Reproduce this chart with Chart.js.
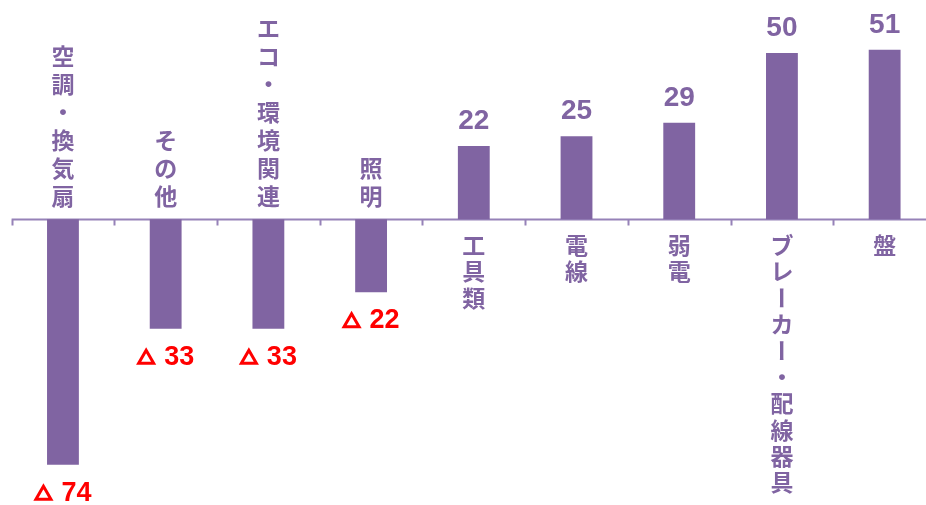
<!DOCTYPE html>
<html>
<head>
<meta charset="utf-8">
<script src="https://cdn.jsdelivr.net/npm/chart.js@4.4.1/dist/chart.umd.min.js"></script>
<style>
  html, body { margin: 0; padding: 0; background: #fff; overflow: hidden; }
  #wrap { width: 940px; height: 505px; }
</style>
</head>
<body>
<div id="wrap"><canvas id="diffChart" width="940" height="505"></canvas></div>
<script>
// --------------------------------
// Data
// --------------------------------
const categories = [
  "空調・換気扇",
  "その他",
  "エコ・環境関連",
  "照明",
  "工具類",
  "電線",
  "弱電",
  "ブレーカー・配線器具",
  "盤",
];
const values = [-74, -33, -33, -22, 22, 25, 29, 50, 51];

const PURPLE = "#8064A2";
const RED = "#FF0000";
const NUM_FONT = '"Liberation Sans", Arial, sans-serif';
const CJK_FONT = '"Noto Sans CJK JP", sans-serif';

// -------------------------------
// Helpers
// -------------------------------
function drawVertical(ctx, text, x, firstCenterY, pitch) {
  const chars = Array.from(text);
  chars.forEach((ch, i) => {
    const y = firstCenterY + i * pitch;
    if (ch === "ー") {
      ctx.save();
      ctx.translate(x, y);
      ctx.rotate(Math.PI / 2);
      ctx.fillText(ch, 0, 0);
      ctx.restore();
    } else {
      ctx.fillText(ch, x, y);
    }
  });
}

// outlined "delta" marker used for negatives
function drawTriangle(ctx, left, baseY, w, h) {
  ctx.beginPath();
  ctx.moveTo(left + w / 2, baseY - h);
  ctx.lineTo(left + w, baseY);
  ctx.lineTo(left, baseY);
  ctx.closePath();
  ctx.lineWidth = 3;
  ctx.lineJoin = "miter";
  ctx.strokeStyle = RED;
  ctx.stroke();
}

// axis line with category boundary ticks
const zeroAxis = {
  id: "zeroAxis",
  beforeDatasetsDraw(chart) {
    const { ctx, scales } = chart;
    const x = scales.x;
    const y0 = Math.round(scales.y.getPixelForValue(0)) + 0.5;
    const step = x.getPixelForValue(1) - x.getPixelForValue(0);
    ctx.save();
    ctx.strokeStyle = "#9682B8";
    ctx.lineWidth = 2;
    ctx.beginPath();
    ctx.moveTo(x.getPixelForValue(0) - step / 2, y0);
    ctx.lineTo(chart.width, y0);
    for (let i = 0; i <= categories.length; i++) {
      const tx = Math.round(x.getPixelForValue(0) - step / 2 + i * step) + 0.5;
      ctx.moveTo(tx, y0);
      ctx.lineTo(tx, y0 + 6);
    }
    ctx.stroke();
    ctx.restore();
  },
};

// value labels + vertical category labels
const barLabels = {
  id: "barLabels",
  afterDatasetsDraw(chart) {
    const { ctx } = chart;
    const meta = chart.getDatasetMeta(0);
    const y0 = chart.scales.y.getPixelForValue(0);
    ctx.save();
    meta.data.forEach((bar, i) => {
      const v = values[i];
      const cx = bar.x;
      // category label
      ctx.fillStyle = PURPLE;
      ctx.font = "bold 23px " + CJK_FONT;
      ctx.textAlign = "center";
      ctx.textBaseline = "middle";
      const n = Array.from(categories[i]).length;
      if (v < 0) {
        const pitch = 28;
        drawVertical(ctx, categories[i], cx, y0 - 23 - (n - 1) * pitch, pitch);
      } else {
        drawVertical(ctx, categories[i], cx, y0 + 26, 26.4);
      }
      // value label
      ctx.textBaseline = "alphabetic";
      if (v >= 0) {
        ctx.fillStyle = PURPLE;
        ctx.font = "bold 28px " + NUM_FONT;
        ctx.textAlign = "center";
        ctx.fillText(String(v), cx, bar.y - 17);
      } else {
        ctx.fillStyle = RED;
        const num = String(Math.abs(v));
        ctx.font = "bold 27px " + NUM_FONT;
        const triW = 18;
        const gap = 9;
        const nw = ctx.measureText(num).width;
        const left = cx - (triW + gap + nw) / 2;
        const base = bar.y + 36;
        ctx.textAlign = "left";
        ctx.fillText(num, left + triW + gap, base);
        drawTriangle(ctx, left + 1.5, base - 1.5, triW - 3, 13);
      }
    });
    ctx.restore();
  },
};

// -------------------------------
// Chart
// -------------------------------
new Chart(document.getElementById("diffChart").getContext("2d"), {
  type: "bar",
  data: {
    labels: categories,
    datasets: [
      {
        data: values,
        backgroundColor: PURPLE,
        borderWidth: 0,
        barPercentage: 0.31,
        categoryPercentage: 1,
      },
    ],
  },
  options: {
    responsive: false,
    animation: false,
    layout: { padding: { left: 11.6, right: 4, top: 0, bottom: 0 } },
    plugins: { legend: { display: false }, tooltip: { enabled: false } },
    scales: {
      x: { display: false },
      y: { display: false, min: -86.1, max: 66 },
    },
  },
  plugins: [zeroAxis, barLabels],
});
</script>
</body>
</html>
